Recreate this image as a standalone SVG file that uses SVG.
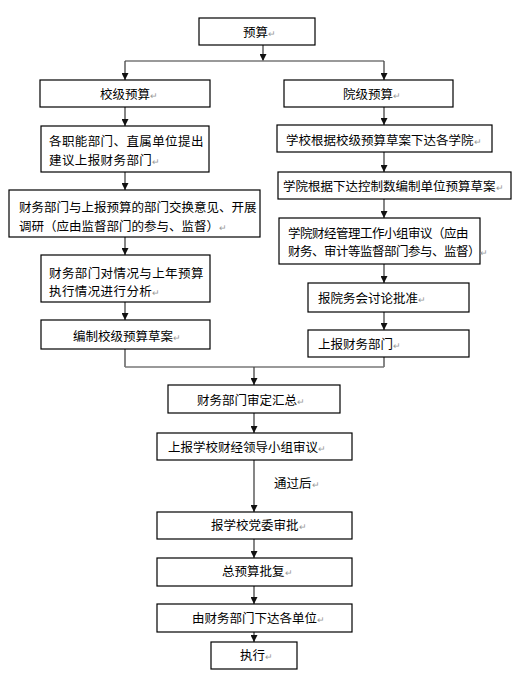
<svg xmlns="http://www.w3.org/2000/svg" width="530" height="675" viewBox="0 0 530 675">
<style>
.b{fill:#fff;stroke:#000;stroke-width:1.2}
.t{font-family:"Noto Sans CJK SC","Noto Sans CJK TC",sans-serif;font-size:12.5px;fill:#000}
.m{font-size:8.5px;fill:#999}
.v{fill:none;stroke:#444;stroke-width:1.3}
.h{fill:none;stroke:#777;stroke-width:1.6}
.w{letter-spacing:0.4px}
.n{letter-spacing:-0.5px}
</style>
<defs>
<marker id="a" markerUnits="userSpaceOnUse" markerWidth="7" markerHeight="7" refX="3.5" refY="7" orient="0" viewBox="0 0 7 7">
<path d="M0,0 L7,0 L3.5,7 z" fill="#111"/>
</marker>
</defs>
<rect width="530" height="675" fill="#fff"/>
<g id="connectors">
<path class="v" d="M263,45 V61" marker-end="url(#a)"/>
<path class="h" d="M125,61 H384"/>
<path class="v" d="M125,61 V80" marker-end="url(#a)"/>
<path class="v" d="M384,61 V80" marker-end="url(#a)"/>
<path class="v" d="M125,107 V126" marker-end="url(#a)"/>
<path class="v" d="M125,172 V190" marker-end="url(#a)"/>
<path class="v" d="M125,237 V255" marker-end="url(#a)"/>
<path class="v" d="M125,302 V320" marker-end="url(#a)"/>
<path class="v" d="M384,107 V125" marker-end="url(#a)"/>
<path class="v" d="M384,152 V172" marker-end="url(#a)"/>
<path class="v" d="M384,199 V218" marker-end="url(#a)"/>
<path class="v" d="M384,264 V283" marker-end="url(#a)"/>
<path class="v" d="M384,312 V330" marker-end="url(#a)"/>
<path class="v" d="M125,349 V367"/>
<path class="v" d="M384,357 V367"/>
<path class="h" d="M125,367 H384"/>
<path class="v" d="M254,367 V385" marker-end="url(#a)"/>
<path class="v" d="M254,413 V433" marker-end="url(#a)"/>
<path class="v" d="M254,460 V512" marker-end="url(#a)"/>
<path class="v" d="M254,539 V558" marker-end="url(#a)"/>
<path class="v" d="M254,586 V604" marker-end="url(#a)"/>
<path class="v" d="M254,632 V642" marker-end="url(#a)"/>
<text class="t" x="274" y="487.5">通过后<tspan class="m">↵</tspan></text>
</g>
<g id="n-top"><rect class="b" x="199" y="18" width="116" height="27"/><text class="t" x="243" y="37">预算<tspan class="m">↵</tspan></text></g>
<g id="n-l0"><rect class="b" x="40" y="80" width="170" height="27"/><text class="t" x="100" y="98.5">校级预算<tspan class="m">↵</tspan></text></g>
<g id="n-r0"><rect class="b" x="284" y="80" width="169" height="27"/><text class="t" x="343" y="98.5">院级预算<tspan class="m">↵</tspan></text></g>
<g id="n-l1"><rect class="b" x="41" y="126" width="168" height="46"/><text class="t w" x="49" y="146.2">各职能部门、直属单位提出</text><text class="t w" x="49" y="165.2">建议上报财务部门<tspan class="m">↵</tspan></text></g>
<g id="n-l2"><rect class="b" x="9" y="190" width="251" height="47"/><text class="t" x="19" y="211.8">财务部门与上报预算的部门交换意见、开展</text><text class="t" x="19" y="231.2">调研（应由监督部门的参与、监督）<tspan class="m">↵</tspan></text></g>
<g id="n-l3"><rect class="b" x="41" y="255" width="169" height="47"/><text class="t w" x="49" y="277.5">财务部门对情况与上年预算</text><text class="t w" x="49" y="295.5">执行情况进行分析<tspan class="m">↵</tspan></text></g>
<g id="n-l4"><rect class="b" x="41" y="320" width="169" height="29"/><text class="t" x="73" y="341.2">编制校级预算草案<tspan class="m">↵</tspan></text></g>
<g id="n-r1"><rect class="b" x="277" y="125" width="215" height="27"/><text class="t" x="286" y="144.5">学校根据校级预算草案下达各学院<tspan class="m">↵</tspan></text></g>
<g id="n-r2"><rect class="b" x="278" y="172" width="233" height="27"/><text class="t" x="283" y="190.5">学院根据下达控制数编制单位预算草案<tspan class="m">↵</tspan></text></g>
<g id="n-r3"><rect class="b" x="279" y="218" width="201" height="46"/><text class="t n" x="288" y="237.8">学院财经管理工作小组审议（应由</text><text class="t n" x="288" y="256.2">财务、审计等监督部门参与、监督）<tspan class="m">↵</tspan></text></g>
<g id="n-r4"><rect class="b" x="308" y="283" width="161" height="29"/><text class="t" x="318" y="302.5">报院务会讨论批准<tspan class="m">↵</tspan></text></g>
<g id="n-r5"><rect class="b" x="308" y="330" width="161" height="27"/><text class="t" x="318" y="348.5">上报财务部门<tspan class="m">↵</tspan></text></g>
<g id="n-m1"><rect class="b" x="168" y="385" width="172" height="28"/><text class="t" x="197" y="405.2">财务部门审定汇总<tspan class="m">↵</tspan></text></g>
<g id="n-m2"><rect class="b" x="157" y="433" width="195" height="27"/><text class="t" x="168" y="451.5">上报学校财经领导小组审议<tspan class="m">↵</tspan></text></g>
<g id="n-m3"><rect class="b" x="157" y="512" width="195" height="27"/><text class="t" x="211" y="529.5">报学校党委审批<tspan class="m">↵</tspan></text></g>
<g id="n-m4"><rect class="b" x="157" y="558" width="195" height="28"/><text class="t" x="222" y="576.3">总预算批复<tspan class="m">↵</tspan></text></g>
<g id="n-m5"><rect class="b" x="157" y="604" width="195" height="28"/><text class="t" x="192" y="622.8">由财务部门下达各单位<tspan class="m">↵</tspan></text></g>
<g id="n-m6"><rect class="b" x="211" y="642" width="86" height="27"/><text class="t" x="240" y="660.2">执行<tspan class="m">↵</tspan></text></g>
</svg>
